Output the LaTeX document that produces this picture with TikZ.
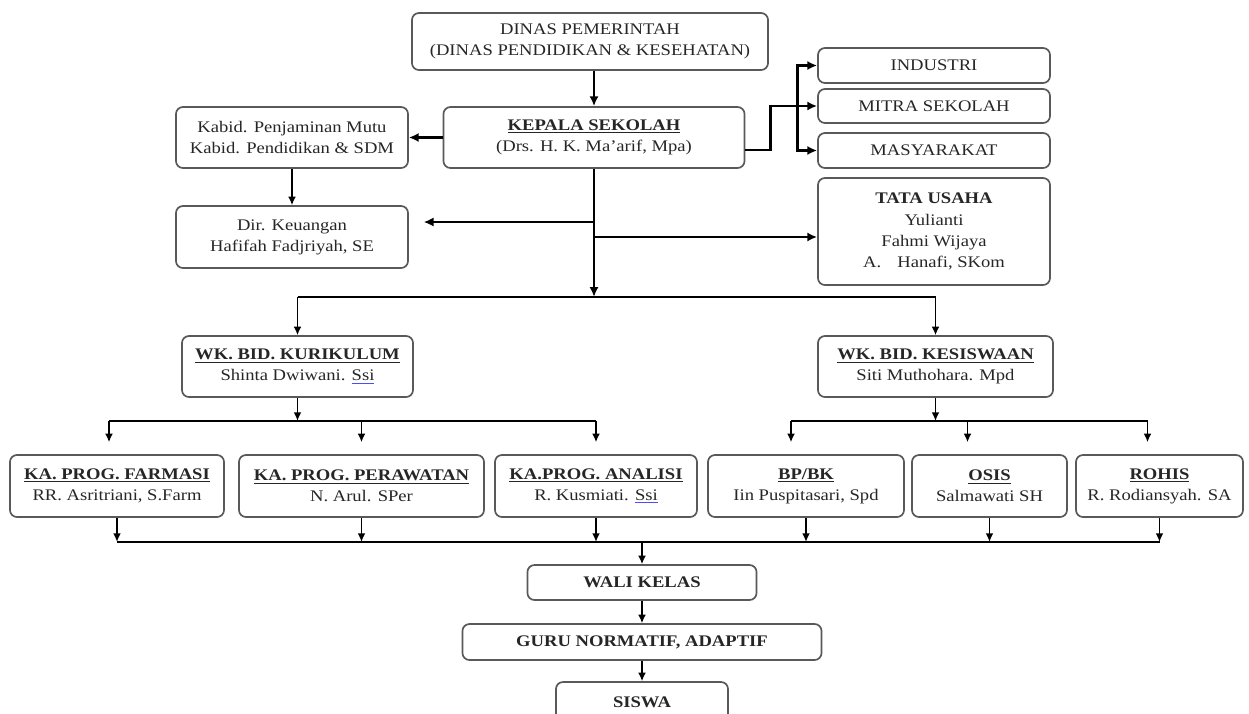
\documentclass[tikz,border=0pt]{standalone}
\usepackage{fontspec}
\setmainfont{Liberation Serif}[FakeStretch=1.15]
\usepackage{xcolor}
\usepackage{tikz}
\usetikzlibrary{shapes.geometric, arrows, arrows.meta, positioning, calc}
\newcommand{\spellmark}[1]{{\color{blue!70}\underline{\color{black!85}#1}}}
\newcommand{\heading}[1]{\underline{\textbf{#1}\vphantom{/}}}
\tikzstyle{unit} = [rectangle, rounded corners=5pt, text centered, align=center, draw=black!65, line width=1.2pt, fill=white, text=black!85, inner sep=2pt]
\tikzstyle{arrow} = [line width=1pt,->,>={Latex[length=6pt,width=5.5pt]}]
\tikzstyle{bigarrow} = [line width=2pt,->,>={Latex[length=7pt,width=6.5pt]}]
\tikzstyle{link} = [line width=1pt]

\begin{document}
\begin{tikzpicture}[x=0.025cm, y=-0.025cm, font=\fontsize{11.5}{15}\selectfont]
\useasboundingbox (0,0) rectangle (1249,713);
% Units
\node (dinas) [unit, minimum width=8.9cm, minimum height=1.425cm] at (590,41.5) {DINAS PEMERINTAH\\(DINAS PENDIDIKAN \& KESEHATAN)};
\node (kepala) [unit, minimum width=7.525cm, minimum height=1.525cm] at (594,137.5) {\heading{KEPALA SEKOLAH}\\(Drs. H. K. Ma’arif, Mpa)};
\node (kabid) [unit, minimum width=5.8cm, minimum height=1.525cm] at (292,137.5) {Kabid. Penjaminan Mutu\\Kabid. Pendidikan \& SDM};
\node (dir) [unit, minimum width=5.8cm, minimum height=1.55cm] at (292,237) {Dir. Keuangan\\Hafifah Fadjriyah, SE};
\node (industri) [unit, minimum width=5.8cm, minimum height=0.875cm] at (934,65.5) {INDUSTRI};
\node (mitra) [unit, minimum width=5.8cm, minimum height=0.85cm] at (934,106) {MITRA SEKOLAH};
\node (masyarakat) [unit, minimum width=5.8cm, minimum height=0.875cm] at (934,150.5) {MASYARAKAT};
\node (tata) [unit, minimum width=5.8cm, minimum height=2.675cm] at (934,231.5) {\textbf{TATA USAHA}\\Yulianti\\Fahmi Wijaya\\A.\quad Hanafi, SKom};
\node (wkkur) [unit, minimum width=5.775cm, minimum height=1.525cm] at (297.5,366.5) {\heading{WK. BID. KURIKULUM}\\Shinta Dwiwani. \spellmark{Ssi}};
\node (wkkes) [unit, minimum width=5.875cm, minimum height=1.525cm] at (935.5,366.5) {\heading{WK. BID. KESISWAAN}\\Siti Muthohara. Mpd};
\node (farmasi) [unit, minimum width=5.35cm, minimum height=1.55cm] at (117,486) {\heading{KA. PROG. FARMASI}\\RR. Asritriani, S.Farm};
\node (perawatan) [unit, minimum width=6.125cm, minimum height=1.55cm] at (361.5,486) {\heading{KA. PROG. PERAWATAN}\\N. Arul. SPer};
\node (analisi) [unit, minimum width=5.05cm, minimum height=1.55cm] at (596,486) {\heading{KA.PROG. ANALISI}\\R. Kusmiati. \spellmark{Ssi}};
\node (bpbk) [unit, minimum width=4.9cm, minimum height=1.55cm] at (806,486) {\heading{BP/BK}\\Iin Puspitasari, Spd};
\node (osis) [unit, minimum width=3.875cm, minimum height=1.55cm] at (989.5,486) {\heading{OSIS}\\Salmawati SH};
\node (rohis) [unit, minimum width=4.175cm, minimum height=1.55cm] at (1159.5,486) {\heading{ROHIS}\\R. Rodiansyah. SA};
\node (wali) [unit, minimum width=5.725cm, minimum height=0.875cm] at (642,582.5) {\textbf{WALI KELAS}};
\node (guru) [unit, minimum width=8.975cm, minimum height=0.9cm] at (642,642) {\textbf{GURU NORMATIF, ADAPTIF}};
\node (siswa) [unit, minimum width=4.3cm, minimum height=1cm] at (642,702) {\textbf{SISWA}};

% Junctions
\coordinate (hub) at ($(mitra.west)+(-20,0)$);
\coordinate (split) at ($(kepala.south)+(0,128)$);
\coordinate (dirin) at ($(dir.east)+(0,-15)$);
\coordinate (tatain) at ($(tata.west)+(0,5.5)$);
\coordinate (kurbus) at ($(wkkur.south)+(0,23)$);
\coordinate (kesbus) at ($(wkkes.south)+(0,23)$);
\coordinate (bus) at ($(analisi.south)+(0,24)$);

% Relationships
\draw [bigarrow] (dinas.south -| kepala.north) -- (kepala.north);
\draw [bigarrow] (kepala.west) -- (kabid.east);
\draw [arrow] (kabid.south) -- (dir.north);
\draw [bigarrow] ($(kepala.east)+(0,12.5)$) -- ++(25,0) |- (mitra.west);
\draw [bigarrow] (hub) |- (industri.west);
\draw [bigarrow] (hub) |- (masyarakat.west);
\draw [bigarrow] (kepala.south) -- (split);
\draw [bigarrow, shorten >=0.37cm] (dirin -| kepala.south) -- (dirin);
\draw [bigarrow] (tatain -| kepala.south) -- (tatain);
\draw [link] (wkkur.north |- split) -- (wkkes.north |- split);
\draw [arrow] (wkkur.north |- split) -- (wkkur.north);
\draw [arrow] (wkkes.north |- split) -- (wkkes.north);

\draw [arrow] (wkkur.south) -- (kurbus);
\draw [link] ($(farmasi.north |- kurbus)+(-8,0)$) -- (analisi.north |- kurbus);
\foreach \n/\dx in {farmasi/-8, perawatan/0, analisi/0}
  \draw [arrow, shorten >=0.3cm] ($(\n.north |- kurbus)+(\dx,0)$) -- ($(\n.north)+(\dx,0)$);
\draw [arrow] (wkkes.south) -- (kesbus);
\draw [link] ($(bpbk.north |- kesbus)+(-15,0)$) -- ($(rohis.north |- kesbus)+(-12,0)$);
\foreach \n/\dx in {bpbk/-15, osis/-22, rohis/-12}
  \draw [arrow, shorten >=0.3cm] ($(\n.north |- kesbus)+(\dx,0)$) -- ($(\n.north)+(\dx,0)$);

\foreach \n in {farmasi, perawatan, analisi, bpbk, osis, rohis}
  \draw [arrow] (\n.south) -- (\n.south |- bus);
\draw [link] (farmasi.south |- bus) -- (rohis.south |- bus);
\draw [arrow] (wali.north |- bus) -- (wali.north);
\draw [arrow] (wali.south) -- (guru.north);
\draw [arrow] (guru.south) -- (siswa.north);
\end{tikzpicture}
\end{document}
